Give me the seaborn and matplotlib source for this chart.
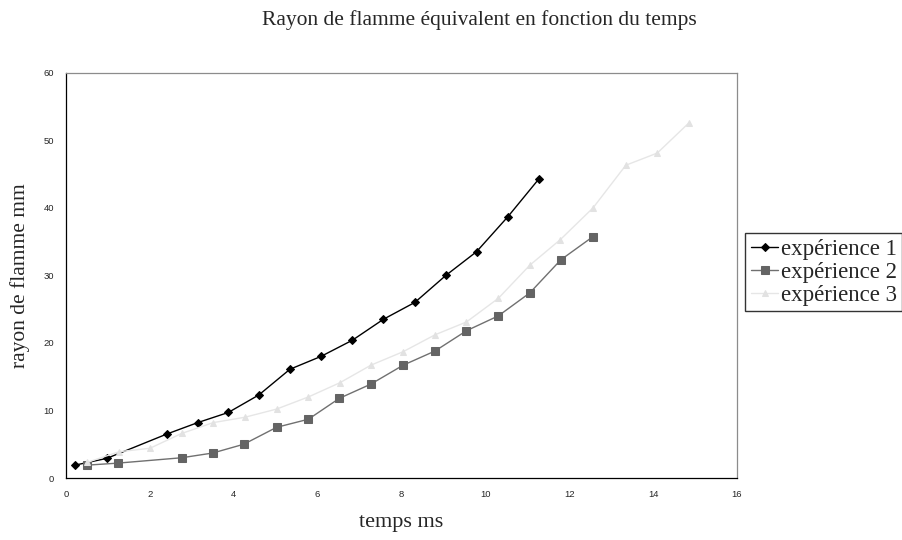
import matplotlib
matplotlib.use("Agg")
import matplotlib.pyplot as plt
import seaborn as sns
import pandas as pd

# Flame radius (mm) versus time (ms) for three runs
t_exp1 = [0.21, 0.97, 2.40, 3.14, 3.87, 4.60, 5.34, 6.08, 6.83, 7.57, 8.32, 9.06, 9.79, 10.54, 11.28]
r_exp1 = [1.9, 2.9, 6.5, 8.2, 9.7, 12.3, 16.1, 18.0, 20.4, 23.5, 26.0, 30.0, 33.5, 38.7, 44.3]

t_exp2 = [0.49, 1.23, 2.76, 3.50, 4.24, 5.02, 5.78, 6.52, 7.27, 8.04, 8.80, 9.55, 10.31, 11.06, 11.80, 12.56]
r_exp2 = [1.9, 2.2, 3.0, 3.7, 5.0, 7.5, 8.7, 11.8, 13.9, 16.7, 18.8, 21.8, 24.0, 27.4, 32.3, 35.7]

t_exp3 = [0.50, 1.27, 2.00, 2.76, 3.51, 4.27, 5.02, 5.78, 6.53, 7.27, 8.04, 8.80, 9.55, 10.31, 11.06, 11.79, 12.57, 13.35, 14.10, 14.86]
r_exp3 = [2.3, 3.9, 4.4, 6.6, 8.2, 9.0, 10.2, 12.0, 14.1, 16.7, 18.7, 21.2, 23.1, 26.6, 31.5, 35.3, 40.0, 46.3, 48.1, 52.6]

series_names = ["expérience 1", "expérience 2", "expérience 3"]
x_ticks = list(range(0, 17, 2))
y_ticks = list(range(0, 61, 10))

frames = []
for name, t, r in zip(series_names, [t_exp1, t_exp2, t_exp3], [r_exp1, r_exp2, r_exp3]):
    frames.append(pd.DataFrame({"temps": t, "rayon": r, "serie": name}))
df = pd.concat(frames, ignore_index=True)

sns.set_style("white")
plt.rcParams["font.family"] = ["Liberation Serif", "DejaVu Serif"]

fig = plt.figure(figsize=(9.02, 5.40), dpi=100)
ax = fig.add_axes([0.0732, 0.1148, 0.7438, 0.7506])

styles = {
    "expérience 1": dict(color="#000000", marker="D", ms=4.2, lc="#000000"),
    "expérience 2": dict(color="#646464", marker="s", ms=5.2, lc="#707070"),
    "expérience 3": dict(color="#e2e2e2", marker="^", ms=5.0, lc="#e6e6e6"),
}

for name in series_names:
    s = styles[name]
    sub = df[df["serie"] == name]
    sns.lineplot(data=sub, x="temps", y="rayon", ax=ax, color=s["lc"], lw=1.0,
                 marker=s["marker"], markersize=s["ms"], markerfacecolor=s["color"],
                 markeredgecolor=s["color"], label=name, sort=False)

ax.set_xlim(0, 16)
ax.set_ylim(0, 60)
ax.set_xticks(x_ticks)
ax.set_yticks(y_ticks)
ax.tick_params(axis="both", direction="inout", length=5, width=0.8, color="#000000",
               labelsize=6.8, pad=6)
for lab in ax.get_xticklabels() + ax.get_yticklabels():
    lab.set_family(["Liberation Sans", "DejaVu Sans"])

for side in ["left", "bottom"]:
    ax.spines[side].set_color("#000000")
    ax.spines[side].set_linewidth(0.9)
for side in ["top", "right"]:
    ax.spines[side].set_color("#8c8c8c")
    ax.spines[side].set_linewidth(0.9)

ax.set_xlabel("temps ms", fontsize=16, labelpad=10)
ax.set_ylabel("rayon de flamme mm", fontsize=15.5, labelpad=10)
fig.text(0.532, 0.962, "Rayon de flamme équivalent en fonction du temps",
         ha="center", va="center", fontsize=15.5)

leg = ax.legend(loc="center left", bbox_to_anchor=(0.826, 0.496),
                bbox_transform=fig.transFigure, frameon=True, fancybox=False,
                fontsize=16.5, handlelength=1.2, handletextpad=0.1,
                borderpad=0.25, labelspacing=0.08, borderaxespad=0)
leg.get_frame().set_edgecolor("#000000")
leg.get_frame().set_linewidth(1.0)

fig.savefig("out.png", dpi=100)
